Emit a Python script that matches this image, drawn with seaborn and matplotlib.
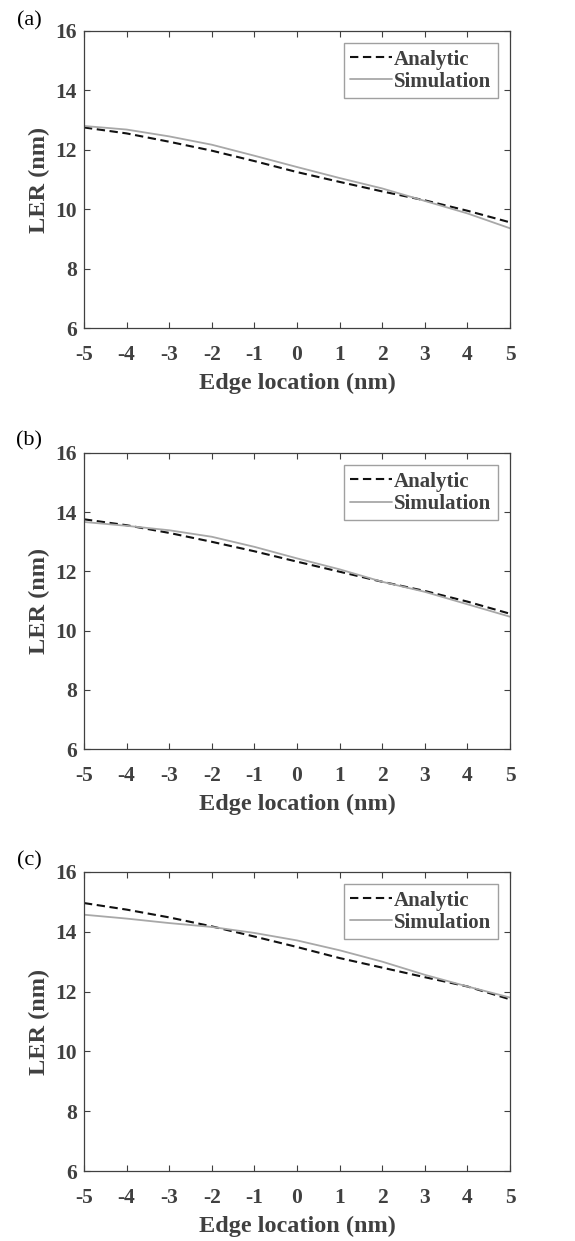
import matplotlib
matplotlib.use("Agg")
import matplotlib.pyplot as plt
import numpy as np
import pandas as pd
import seaborn as sns

# Edge location (nm)
EDGE = [-5, -4, -3, -2, -1, 0, 1, 2, 3, 4, 5]

# LER (nm)
ANALYTIC_A = [12.75, 12.55, 12.27, 11.97, 11.62, 11.25, 10.92, 10.6, 10.3, 9.95, 9.56]
SIM_A = [12.8, 12.68, 12.45, 12.17, 11.8, 11.42, 11.05, 10.7, 10.28, 9.86, 9.36]

ANALYTIC_B = [13.76, 13.56, 13.3, 13.0, 12.68, 12.33, 11.99, 11.65, 11.34, 10.98, 10.57]
SIM_B = [13.67, 13.54, 13.39, 13.17, 12.83, 12.44, 12.07, 11.65, 11.31, 10.89, 10.47]

ANALYTIC_C = [14.96, 14.74, 14.48, 14.18, 13.84, 13.49, 13.12, 12.8, 12.48, 12.17, 11.74]
SIM_C = [14.57, 14.44, 14.29, 14.16, 13.96, 13.71, 13.38, 13.0, 12.56, 12.17, 11.8]

PANELS = ["(a)", "(b)", "(c)"]
SERIES = ["Analytic", "Simulation"]

TEXT = "#404040"
sns.set_theme(style="white")
plt.rcParams["font.family"] = ["Liberation Serif", "DejaVu Serif"]
plt.rcParams["axes.unicode_minus"] = False

fig = plt.figure(figsize=(5.75, 12.41), dpi=100)

# axes boxes in figure fractions: left, bottom, width, height
boxes = [
    [0.146, 0.7355, 0.741, 0.2397],
    [0.146, 0.3964, 0.741, 0.2386],
    [0.146, 0.0564, 0.741, 0.241],
]
label_y = [21, 441, 861]

data = [(ANALYTIC_A, SIM_A), (ANALYTIC_B, SIM_B), (ANALYTIC_C, SIM_C)]

for box, (ana, sim), tag, ly in zip(boxes, data, PANELS, label_y):
    ax = fig.add_axes(box)
    df = pd.DataFrame({
        "x": EDGE * 2,
        "y": ana + sim,
        "series": [SERIES[0]] * len(EDGE) + [SERIES[1]] * len(EDGE),
    })
    sns.lineplot(data=df[df.series == "Analytic"], x="x", y="y", ax=ax,
                 color="#111111", lw=1.5, ls=(0, (4, 2.2)), label="Analytic")
    sns.lineplot(data=df[df.series == "Simulation"], x="x", y="y", ax=ax,
                 color="#a8a8a8", lw=1.3, label="Simulation")

    ax.set_xlim(-5, 5)
    ax.set_ylim(6, 16)
    ax.set_xticks(range(-5, 6))
    ax.set_yticks([6, 8, 10, 12, 14, 16])
    ax.tick_params(direction="in", length=4, width=0.8, top=True, right=True,
                   bottom=True, left=True, colors=TEXT, labelsize=15.5, pad=5)
    ax.tick_params(axis="x", pad=12)
    for t in ax.get_xticklabels() + ax.get_yticklabels():
        t.set_fontweight("bold")
    for s in ax.spines.values():
        s.set_color(TEXT)
        s.set_linewidth(0.9)
    ax.set_xlabel("Edge location (nm)", fontsize=17.5, fontweight="bold",
                  color=TEXT, labelpad=6)
    ax.set_ylabel("LER (nm)", fontsize=17.5, fontweight="bold",
                  color=TEXT, labelpad=4)

    leg = ax.legend(loc="upper right", prop={"weight": "bold", "size": 15},
                    frameon=True, fancybox=False, handlelength=2.0,
                    handletextpad=0.1, borderpad=0.3, labelspacing=0.1,
                    borderaxespad=0.6)
    leg.get_frame().set_edgecolor("#888888")
    leg.get_frame().set_linewidth(1.0)
    for t in leg.get_texts():
        t.set_color(TEXT)

    fig.text(29 / 575, 1 - ly / 1241, tag, ha="center", va="center",
             fontsize=16, color="black")

fig.savefig("out.png", dpi=100)
